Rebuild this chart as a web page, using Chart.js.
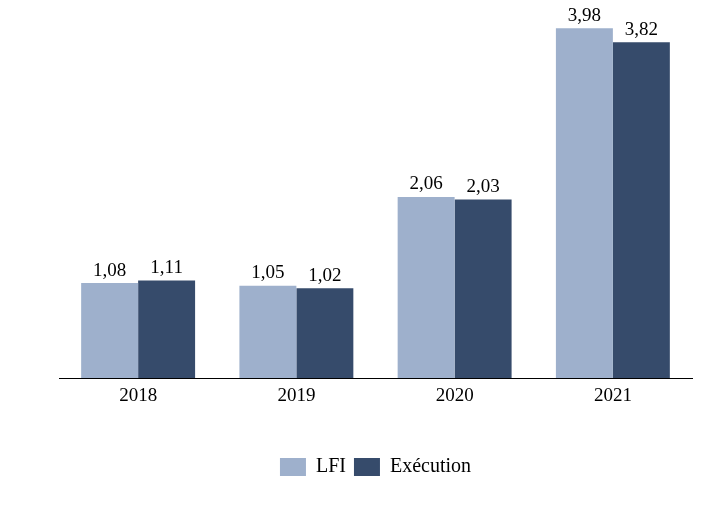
<!DOCTYPE html>
<html>
<head>
<meta charset="utf-8">
<script src="https://cdn.jsdelivr.net/npm/chart.js@4/dist/chart.umd.min.js"></script>
<style>
  html, body { margin: 0; padding: 0; background: #fff; }
  #wrap { width: 724px; height: 505px; }
</style>
</head>
<body>
<div id="wrap"><canvas id="graphique"></canvas></div>
<script>
// Données du graphique
const annees = ['2018', '2019', '2020', '2021'];
const valeursLFI = [1.08, 1.05, 2.06, 3.98];
const valeursExecution = [1.11, 1.02, 2.03, 3.82];

const policeTexte = '"Liberation Serif", "DejaVu Serif", serif';

// Étiquettes de valeur au-dessus des barres
const etiquettesBarres = {
    id: 'etiquettesBarres',
    afterDatasetsDraw(chart) {
        const ctx = chart.ctx;
        ctx.save();
        ctx.font = '19px ' + policeTexte;
        ctx.fillStyle = '#000';
        ctx.textAlign = 'center';
        ctx.textBaseline = 'bottom';
        chart.data.datasets.forEach((ds, i) => {
            chart.getDatasetMeta(i).data.forEach((barre, j) => {
                const texte = ds.data[j].toFixed(2).replace('.', ',');
                ctx.fillText(texte, barre.x, barre.y - 3);
            });
        });
        ctx.restore();
    }
};

new Chart(document.getElementById('graphique'), {
    type: 'bar',
    data: {
        labels: annees,
        datasets: [
            { label: 'LFI', data: valeursLFI, backgroundColor: '#9EB0CC' },
            { label: 'Exécution', data: valeursExecution, backgroundColor: '#364B6B' }
        ]
    },
    options: {
        responsive: true,
        maintainAspectRatio: false,
        animation: false,
        layout: { padding: { left: 59, right: 32, top: 0, bottom: 18 } },
        categoryPercentage: 0.72,
        barPercentage: 1,
        plugins: {
            legend: {
                position: 'bottom',
                labels: {
                    boxWidth: 26,
                    boxHeight: 18,
                    padding: 8,
                    color: '#000',
                    font: { family: policeTexte, size: 20 }
                }
            },
            tooltip: { enabled: false }
        },
        scales: {
            x: {
                grid: { display: false },
                border: { display: true, color: '#000', width: 1 },
                ticks: { color: '#000', padding: -1, font: { family: policeTexte, size: 19 } },
                afterFit(echelle) { echelle.height = 71; }
            },
            y: {
                display: false,
                min: 0,
                max: 4.3
            }
        }
    },
    plugins: [etiquettesBarres]
});
</script>
</body>
</html>
